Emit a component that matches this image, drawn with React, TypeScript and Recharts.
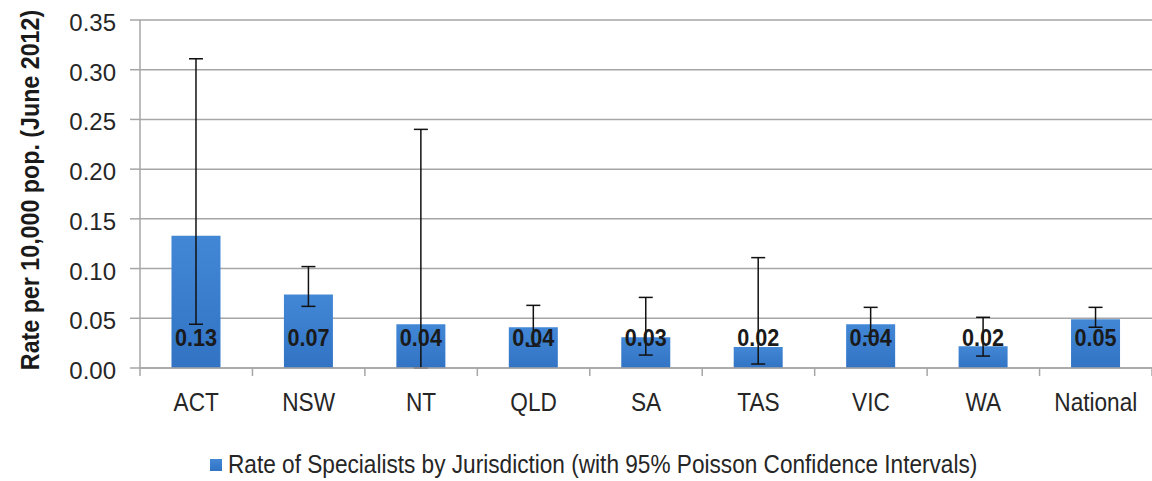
import React from 'react';
import { BarChart, Bar, XAxis, YAxis, CartesianGrid, ErrorBar, LabelList, Legend } from 'recharts';

const categories = ['ACT', 'NSW', 'NT', 'QLD', 'SA', 'TAS', 'VIC', 'WA', 'National'];
const rates = [0.133, 0.074, 0.044, 0.041, 0.031, 0.021, 0.044, 0.022, 0.049];
const lowerCI = [0.044, 0.062, 0.0, 0.022, 0.013, 0.004, 0.032, 0.012, 0.041];
const upperCI = [0.311, 0.102, 0.240, 0.063, 0.071, 0.111, 0.061, 0.051, 0.061];
const yTicks = [0, 0.05, 0.1, 0.15, 0.2, 0.25, 0.3, 0.35];
const seriesName = 'Rate of Specialists by Jurisdiction (with 95% Poisson Confidence Intervals)';
const yTitle = 'Rate per 10,000 pop. (June 2012)';

const data = categories.map((c, i) => ({
  cat: c,
  rate: rates[i],
  err: [rates[i] - lowerCI[i], upperCI[i] - rates[i]],
}));

const FONT = "'Liberation Sans', Arial, sans-serif";
const GRID = '#a6a6a6';

const XTick = (props: any) => {
  const { x, y, payload, index, visibleTicksCount } = props;
  const half = payload && payload.offset ? payload.offset : 56;
  return (
    <g>
      <line x1={x - half} y1={y} x2={x - half} y2={y + 8} stroke={GRID} strokeWidth={1.5} />
      {index === (visibleTicksCount ?? categories.length) - 1 && (
        <line x1={x + half} y1={y} x2={x + half} y2={y + 8} stroke={GRID} strokeWidth={1.5} />
      )}
      <text
        transform={`translate(${x},${y + 43}) scale(0.87,1)`}
        textAnchor="middle"
        fontFamily={FONT}
        fontSize={26}
        fill="#262626"
      >
        {payload.value}
      </text>
    </g>
  );
};

const YTick = (props: any) => {
  const { x, y, payload } = props;
  return (
    <text x={x} y={y + 11} textAnchor="end" fontFamily={FONT} fontSize={24} fill="#262626">
      {Number(payload.value).toFixed(2)}
    </text>
  );
};

const ValueLabel = (props: any) => {
  const { x, y, width, height, value } = props;
  return (
    <text
      transform={`translate(${x + width / 2},${y + height - 22}) scale(0.94,1)`}
      textAnchor="middle"
      fontFamily={FONT}
      fontWeight="bold"
      fontSize={23}
      fill="#1a1a1a"
    >
      {Number(value).toFixed(2)}
    </text>
  );
};

const YTitle = (props: any) => {
  const { viewBox } = props;
  const cx = 30;
  const cy = viewBox.y + viewBox.height / 2 - 4;
  return (
    <text
      transform={`translate(${cx},${cy}) rotate(-90) scale(0.93,1)`}
      textAnchor="middle"
      dominantBaseline="central"
      fontFamily={FONT}
      fontWeight="bold"
      fontSize={25}
      fill="#1a1a1a"
    >
      {yTitle}
    </text>
  );
};

const LegendContent = () => (
  <div
    style={{
      height: 53,
      display: 'flex',
      alignItems: 'center',
      paddingLeft: 210,
      paddingTop: 20,
      boxSizing: 'border-box',
      fontFamily: FONT,
      fontSize: 26,
      color: '#262626',
    }}
  >
    <span
      style={{
        display: 'inline-block',
        width: 12,
        height: 12,
        flex: '0 0 12px',
        background: 'linear-gradient(#4287d6, #3273c4)',
        marginRight: 6,
      }}
    />
    <span style={{ whiteSpace: 'nowrap', display: 'inline-block', transform: 'scaleX(0.87)', transformOrigin: 'left center' }}>
      {seriesName}
    </span>
  </div>
);

export default function App() {
  return (
    <div style={{ position: 'absolute', left: 0, top: 0, width: 1152, height: 481, background: '#fff', overflow: 'hidden' }}>
      <BarChart
        width={1152}
        height={481}
        data={data}
        margin={{ top: 20, right: 0, left: 0, bottom: 0 }}
        barCategoryGap="28%"
      >
        <defs>
          <linearGradient id="barGrad" x1="0" y1="0" x2="0" y2="1">
            <stop offset="0%" stopColor="#4287d6" />
            <stop offset="100%" stopColor="#3273c4" />
          </linearGradient>
        </defs>
        <CartesianGrid vertical={false} stroke={GRID} strokeWidth={1.5} />
        <XAxis
          dataKey="cat"
          height={60}
          tickSize={0}
          tickMargin={0}
          tick={<XTick />}
          axisLine={{ stroke: GRID, strokeWidth: 1.5 }}
          interval={0}
        />
        <YAxis
          width={140}
          domain={[0, 0.35]}
          ticks={yTicks}
          tickSize={10}
          tickMargin={14}
          tick={<YTick />}
          tickLine={{ stroke: GRID, strokeWidth: 1.5 }}
          axisLine={{ stroke: GRID, strokeWidth: 1.5 }}
          label={<YTitle />}
        />
        <Legend verticalAlign="bottom" height={53} content={<LegendContent />} />
        <Bar dataKey="rate" name={seriesName} fill="url(#barGrad)" isAnimationActive={false}>
          <ErrorBar dataKey="err" width={7} stroke="#111" strokeWidth={1.5} />
          <LabelList dataKey="rate" content={<ValueLabel />} />
        </Bar>
      </BarChart>
    </div>
  );
}
